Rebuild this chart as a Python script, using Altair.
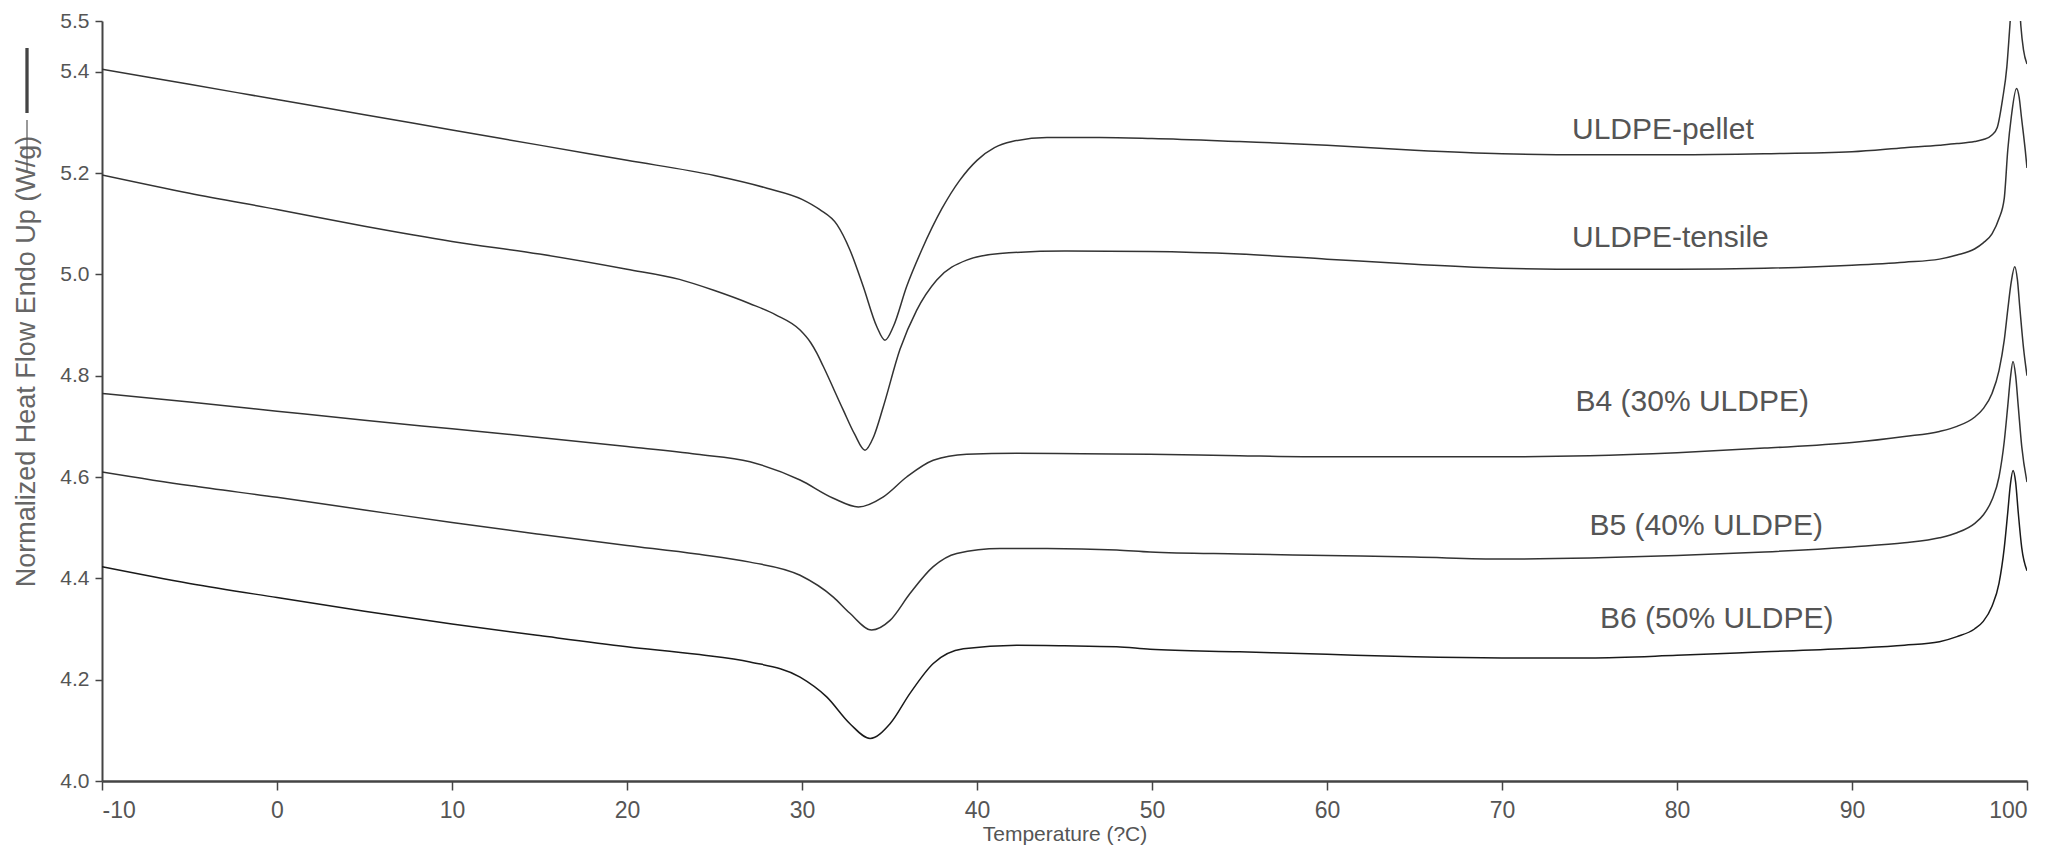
import altair as alt
import pandas as pd

# ---------------- data ----------------
series_names = ["ULDPE-pellet", "ULDPE-tensile", "B4 (30% ULDPE)", "B5 (40% ULDPE)", "B6 (50% ULDPE)"]

pellet_x = [-10, -5, 0, 5, 10, 15, 20, 25, 28, 30, 31, 32, 32.74, 33.5, 34.27, 34.74, 35.22, 35.98, 36.84, 38,
            39, 40, 41, 42, 44, 47, 50, 55, 60, 65, 70, 75, 80, 85, 90, 93, 95, 96, 97, 97.5,
            98, 98.3, 98.6, 98.85, 99.0, 99.2, 99.35, 99.5, 99.65, 99.8, 100]
pellet_y = [5.405, 5.375, 5.345, 5.315, 5.285, 5.255, 5.225, 5.195, 5.17, 5.148, 5.128, 5.098, 5.048, 4.976, 4.897, 4.87, 4.897, 4.976, 5.048, 5.13,
            5.185, 5.225, 5.25, 5.262, 5.27, 5.27, 5.268, 5.262, 5.255, 5.245, 5.238, 5.236, 5.236, 5.238, 5.242, 5.25, 5.255, 5.258, 5.262, 5.266,
            5.275, 5.29, 5.345, 5.41, 5.48, 5.58, 5.62, 5.58, 5.49, 5.443, 5.415]

tensile_x = [-10, -5, 0, 5, 10, 15, 20, 23, 25, 27.03, 28.5, 29.89, 30.5, 30.84, 31.22, 32.36, 33.0, 33.6, 34.1, 34.65,
             35.6, 36.55, 37.7, 39.41, 41.31, 45, 49.89, 55, 60, 65, 70, 75, 80, 85, 90, 93, 95, 96, 97, 97.5,
             98, 98.4, 98.7, 98.9, 99.1, 99.4, 99.55, 99.68, 99.9, 100]
tensile_y = [5.196, 5.16, 5.128, 5.095, 5.065, 5.04, 5.01, 4.99, 4.968, 4.942, 4.92, 4.89, 4.865, 4.845, 4.818, 4.732, 4.685, 4.653, 4.68, 4.739,
             4.852, 4.929, 4.989, 5.028, 5.041, 5.046, 5.045, 5.04, 5.03, 5.02, 5.012, 5.01, 5.01, 5.012, 5.018, 5.024, 5.03, 5.038, 5.05, 5.062,
             5.08, 5.11, 5.15, 5.245, 5.31, 5.367, 5.35, 5.311, 5.245, 5.21]

b4_x = [-10, -5, 0, 5, 10, 15, 20, 24, 27.03, 29.89, 31.79, 33.22, 34.65, 35.98, 37.5, 39.41, 42.27, 46, 49.89, 55,
        60, 65, 70, 75, 80, 85, 90, 93, 95, 96, 97, 97.5, 98, 98.4, 98.7, 98.9, 99.1, 99.3, 99.45, 99.6,
        99.8, 100]
b4_y = [4.765, 4.748, 4.73, 4.712, 4.695, 4.678, 4.66, 4.645, 4.63, 4.594, 4.558, 4.541, 4.561, 4.6, 4.633, 4.645, 4.647, 4.646, 4.645, 4.642,
        4.64, 4.64, 4.64, 4.642, 4.648, 4.657, 4.668, 4.68, 4.69, 4.70, 4.718, 4.735, 4.765, 4.81, 4.87, 4.93, 4.985, 5.015, 4.99, 4.93,
        4.855, 4.80]

b5_x = [-10, -5, 0, 5, 10, 15, 20, 24, 27.03, 29.89, 31.79, 32.74, 33.98, 35.03, 36.17, 37.5, 38.84, 41.31, 44, 47.98,
        49.89, 55, 60, 65, 70, 75, 80, 85, 90, 93, 95, 96, 97, 97.5, 98, 98.4, 98.7, 98.9, 99.05, 99.2,
        99.35, 99.5, 99.7, 100]
b5_y = [4.61, 4.583, 4.56, 4.535, 4.51, 4.487, 4.465, 4.448, 4.432, 4.406, 4.363, 4.331, 4.298, 4.317, 4.37, 4.423, 4.449, 4.459, 4.459, 4.456,
        4.452, 4.448, 4.445, 4.442, 4.438, 4.44, 4.445, 4.452, 4.462, 4.47, 4.48, 4.49, 4.508, 4.525, 4.555, 4.60, 4.67, 4.74, 4.795, 4.828,
        4.80, 4.74, 4.66, 4.59]

b6_x = [-10, -5, 0, 5, 10, 15, 20, 24, 27.03, 29.89, 31.41, 32.74, 33.89, 35.03, 36.17, 37.5, 39.22, 42.27, 45, 47.98,
        49.89, 55, 60, 65, 70, 75, 80, 85, 90, 93, 95, 96, 97, 97.5, 98, 98.4, 98.7, 98.9, 99.05, 99.2,
        99.35, 99.5, 99.7, 100]
b6_y = [4.423, 4.39, 4.362, 4.335, 4.31, 4.287, 4.265, 4.25, 4.235, 4.205, 4.166, 4.113, 4.084, 4.113, 4.173, 4.232, 4.261, 4.268, 4.267, 4.265,
        4.26, 4.255, 4.25, 4.245, 4.243, 4.243, 4.248, 4.255, 4.262, 4.268, 4.275, 4.285, 4.30, 4.315, 4.345, 4.39, 4.46, 4.53, 4.585, 4.613,
        4.59, 4.53, 4.46, 4.415]

# in-plot curve labels
label_text = series_names
label_x = [74.0, 74.0, 74.2, 75.0, 75.6]
label_y = [5.268, 5.053, 4.731, 4.485, 4.301]

x_ticks = [-10, 0, 10, 20, 30, 40, 50, 60, 70, 80, 90, 100]
y_ticks = [4.0, 4.2, 4.4, 4.6, 4.8, 5.0, 5.2, 5.4, 5.5]

# ---------------- build table ----------------
xs = [pellet_x, tensile_x, b4_x, b5_x, b6_x]
ys = [pellet_y, tensile_y, b4_y, b5_y, b6_y]
rows = []
for name, sx, sy in zip(series_names, xs, ys):
    for i, (a, b) in enumerate(zip(sx, sy)):
        rows.append({"series": name, "x": a, "y": b, "i": i})
df = pd.DataFrame(rows)
lab = pd.DataFrame({"text": label_text, "x": label_x, "y": label_y})

FONT = "Liberation Sans"

xscale = alt.Scale(domain=[-10, 100], nice=False, zero=False)
yscale = alt.Scale(domain=[4.0, 5.5], nice=False, zero=False)

lines = alt.Chart(df).mark_line(clip=True, interpolate="monotone").encode(
    x=alt.X("x:Q", scale=xscale,
            axis=alt.Axis(values=x_ticks, labelExpr="'' + datum.value", title="Temperature (?C)",
                          labelFontSize=23, labelFont=FONT, labelColor="#555555", labelPadding=9,
                          tickSize=9, tickColor="#444444", tickWidth=1.5,
                          domainColor="#444444", domainWidth=2.5, grid=False,
                          titleFont=FONT, titleFontSize=21, titleFontWeight="normal", titleColor="#555555",
                          titleY=59, titleBaseline="alphabetic")),
    y=alt.Y("y:Q", scale=yscale,
            axis=alt.Axis(values=y_ticks, format=".1f", title="Normalized Heat Flow Endo Up (W/g)",
                          labelFontSize=21, labelFont=FONT, labelColor="#555555", labelPadding=6,
                          tickSize=7, tickColor="#444444", tickWidth=1.5,
                          domainColor="#444444", domainWidth=2, grid=False,
                          titleFont=FONT, titleFontSize=27, titleFontWeight="normal", titleColor="#666666",
                          titleX=-76, titleY=340, titleBaseline="middle")),
    detail="series:N",
    order="i:Q",
    color=alt.Color("series:N", scale=alt.Scale(domain=series_names,
                    range=["#333333", "#333333", "#333333", "#333333", "#1a1a1a"]), legend=None),
    strokeWidth=alt.StrokeWidth("series:N", scale=alt.Scale(domain=series_names,
                    range=[1.5, 1.5, 1.5, 1.5, 2.6]), legend=None),
)

labels = alt.Chart(lab).mark_text(align="left", baseline="alphabetic", font=FONT, fontSize=30,
                                  color="#555555").encode(
    x=alt.X("x:Q", scale=xscale), y=alt.Y("y:Q", scale=yscale), text="text:N")

one = alt.Data(values=[{"a": 1}])
bar_thick = alt.Chart(one).mark_rule(color="#444444", strokeWidth=3.3).encode(
    x=alt.value(-75), y=alt.value(27), y2=alt.value(92))
bar_thin = alt.Chart(one).mark_rule(color="#555555", strokeWidth=1.2).encode(
    x=alt.value(-75), y=alt.value(99), y2=alt.value(150))

chart = alt.layer(lines, labels, bar_thick, bar_thin).properties(
    width=1925, height=760,
    padding={"left": 94, "top": 13, "right": 18, "bottom": 64},
    autosize=alt.AutoSizeParams(type="none"),
    background="white",
).configure_view(stroke=None)

chart.save("out.html", embed_options={"renderer": "svg", "actions": False})
